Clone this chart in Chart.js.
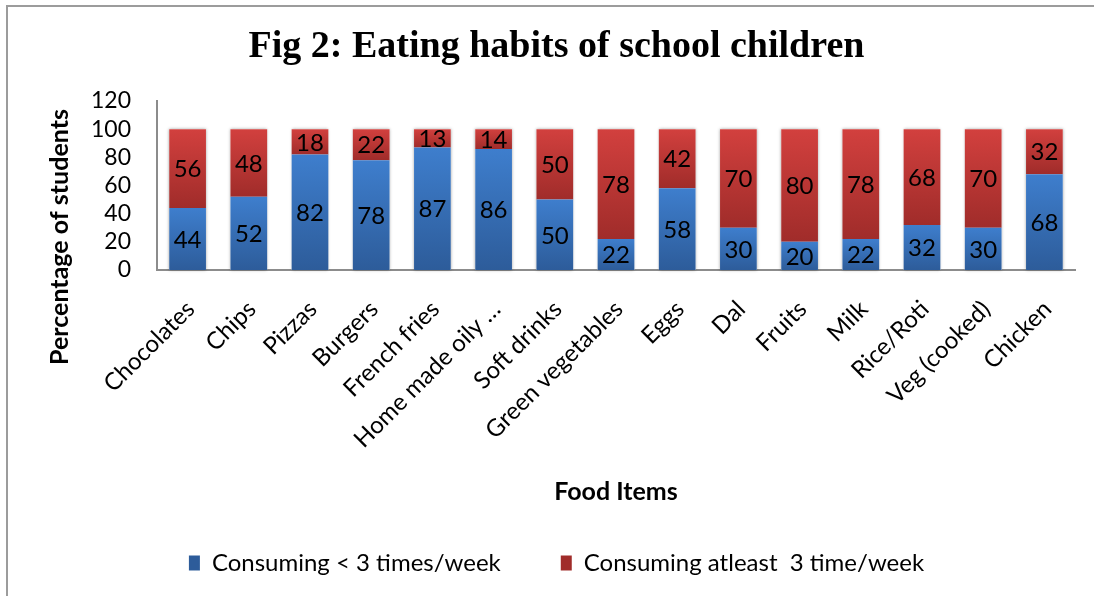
<!DOCTYPE html>
<html><head><meta charset="utf-8">
<script src="https://cdn.jsdelivr.net/npm/chart.js@4.4.1/dist/chart.umd.min.js"></script>
<style>html,body{margin:0;padding:0;background:#fff;}canvas{display:block;}</style>
</head><body>
<canvas id="c" width="1094" height="596"></canvas>
<script>
const categories = ['Chocolates','Chips','Pizzas','Burgers','French fries','Home made oily …','Soft drinks','Green vegetables','Eggs','Dal','Fruits','Milk','Rice/Roti','Veg (cooked)','Chicken'];
const lessThan3 = [44,52,82,78,87,86,50,22,58,30,20,22,32,30,68];
const atLeast3 = [56,48,18,22,13,14,50,78,42,70,80,78,68,70,32];
const yTicks = [0,20,40,60,80,100,120];
const seriesNames = ['Consuming < 3 times/week','Consuming atleast  3 time/week'];
const chartTitle = 'Fig 2: Eating habits of school children';
const xTitle = 'Food Items';
const yTitle = 'Percentage of students';

const FONT = 'Lato, "DejaVu Sans", sans-serif';

function makeBg(dsIndex, light, dark, solid) {
  return (c) => {
    if (c.type !== 'data') return solid;
    const chart = c.chart, y = chart.scales.y;
    if (!y || !chart.chartArea) return solid;
    const i = c.dataIndex;
    const start = dsIndex === 0 ? 0 : lessThan3[i];
    const end = start + (dsIndex === 0 ? lessThan3[i] : atLeast3[i]);
    const yTop = y.getPixelForValue(end), yBot = y.getPixelForValue(start);
    if (!isFinite(yTop) || !isFinite(yBot) || yTop === yBot) return solid;
    const g = chart.ctx.createLinearGradient(0, yTop, 0, yBot);
    g.addColorStop(0, light);
    g.addColorStop(1, dark);
    return g;
  };
}

const frame = {
  id: 'frame',
  beforeDraw(chart) {
    const ctx = chart.ctx;
    ctx.save();
    ctx.fillStyle = '#fff';
    ctx.fillRect(0, 0, chart.width, chart.height);
    ctx.strokeStyle = '#9c9c9c';
    ctx.lineWidth = 2;
    ctx.strokeRect(7, 6, chart.width + 20, chart.height + 20);
    ctx.restore();
  }
};

const barHalo = {
  id: 'barHalo',
  beforeDatasetsDraw(chart) {
    const ctx = chart.ctx, y = chart.scales.y;
    const meta = chart.getDatasetMeta(1);
    ctx.save();
    ctx.shadowColor = 'rgba(0,0,0,0.35)';
    ctx.shadowBlur = 3;
    ctx.fillStyle = '#fff';
    meta.data.forEach((bar, i) => {
      const p = bar.getProps(['x','y','base','width'], true);
      const top = y.getPixelForValue(lessThan3[i] + atLeast3[i]);
      const bot = y.getPixelForValue(0);
      ctx.fillRect(p.x - p.width/2, top, p.width, bot - top);
    });
    ctx.restore();
  }
};

const segLabels = {
  id: 'segLabels',
  afterDatasetsDraw(chart) {
    const ctx = chart.ctx;
    ctx.save();
    ctx.font = '24px ' + FONT;
    ctx.fillStyle = '#000';
    ctx.textAlign = 'center';
    ctx.textBaseline = 'middle';
    chart.data.datasets.forEach((ds, di) => {
      chart.getDatasetMeta(di).data.forEach((bar, i) => {
        const p = bar.getProps(['x','y','base'], true);
        ctx.fillText(String(ds.data[i]), p.x, (p.y + p.base) / 2 + 1);
      });
    });
    ctx.restore();
  }
};

const yTitlePlugin = {
  id: 'yTitlePlugin',
  afterDraw(chart) {
    const ctx = chart.ctx;
    ctx.save();
    ctx.translate(60, 237);
    ctx.rotate(-Math.PI / 2);
    ctx.font = 'bold 25px ' + FONT;
    ctx.fillStyle = '#000';
    ctx.textAlign = 'center';
    ctx.textBaseline = 'middle';
    ctx.fillText(yTitle, 0, 0);
    ctx.restore();
  }
};

new Chart(document.getElementById('c'), {
  type: 'bar',
  data: {
    labels: categories,
    datasets: [
      { label: seriesNames[0], data: lessThan3, backgroundColor: makeBg(0, '#3e7ecd', '#2d5c9a', '#2f5e9e'), borderWidth: 0, categoryPercentage: 0.8, barPercentage: 0.75 },
      { label: seriesNames[1], data: atLeast3, backgroundColor: makeBg(1, '#d2403e', '#a02c2a', '#9e2b29'), borderWidth: 0, categoryPercentage: 0.8, barPercentage: 0.75 }
    ]
  },
  options: {
    responsive: false,
    animation: false,
    devicePixelRatio: 1,
    layout: { padding: { left: 38, right: 19, top: 5, bottom: 11 } },
    plugins: {
      title: {
        display: true, text: chartTitle, color: '#000',
        font: { family: '"Liberation Serif", "Times New Roman", serif', size: 38, weight: 'bold', lineHeight: 1.2 },
        padding: { top: 19.2, bottom: 31.2 }
      },
      legend: {
        position: 'bottom',
        labels: { color: '#000', font: { family: FONT, size: 24 }, boxWidth: 11, boxHeight: 15, padding: 60 }
      },
      tooltip: { enabled: false }
    },
    scales: {
      x: {
        stacked: true,
        grid: { display: false, drawTicks: false },
        border: { display: true, color: '#8c8c8c', width: 2 },
        ticks: { color: '#000', font: { family: FONT, size: 24 }, minRotation: 45, maxRotation: 45, autoSkip: false, padding: 25, labelOffset: 3 },
        title: { display: true, text: xTitle, color: '#000', font: { family: FONT, size: 25, weight: 'bold', lineHeight: 1.2 }, padding: { top: 0, bottom: -16 } },
        afterFit(s) { s.height = 221; }
      },
      y: {
        stacked: true,
        min: 0, max: 120,
        grid: { display: false, drawTicks: false },
        border: { display: true, color: '#8c8c8c', width: 2 },
        ticks: { color: '#000', font: { family: FONT, size: 23 }, padding: 26, autoSkip: false },
        afterBuildTicks(s) { s.ticks = yTicks.map(v => ({ value: v })); },
        afterFit(s) { s.width = 119; }
      }
    }
  },
  plugins: [frame, barHalo, segLabels, yTitlePlugin]
});
</script>
</body></html>
